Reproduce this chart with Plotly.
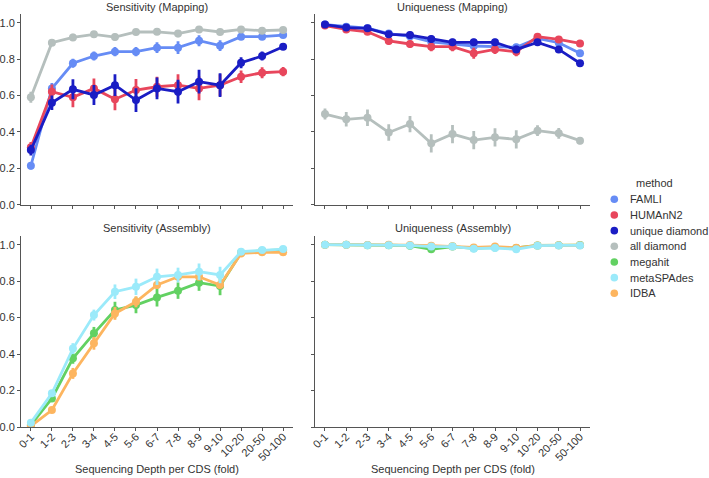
import plotly.graph_objects as go

depth_bins = ["0-1", "1-2", "2-3", "3-4", "4-5", "5-6", "6-7", "7-8", "8-9", "9-10", "10-20", "20-50", "50-100"]

# Sensitivity (Mapping)
famli_sens_map = [0.214, 0.639, 0.777, 0.817, 0.841, 0.841, 0.863, 0.863, 0.901, 0.874, 0.923, 0.923, 0.932]
famli_sens_map_err = [0.02, 0.03, 0.025, 0.025, 0.025, 0.025, 0.03, 0.035, 0.03, 0.03, 0.015, 0.015, 0.01]
humann2_sens_map = [0.315, 0.621, 0.59, 0.639, 0.579, 0.63, 0.648, 0.657, 0.639, 0.657, 0.703, 0.725, 0.731]
humann2_sens_map_err = [0.03, 0.04, 0.055, 0.055, 0.06, 0.06, 0.055, 0.06, 0.065, 0.06, 0.035, 0.03, 0.025]
unique_sens_map = [0.30, 0.56, 0.634, 0.603, 0.657, 0.575, 0.639, 0.621, 0.676, 0.657, 0.78, 0.817, 0.868]
unique_sens_map_err = [0.03, 0.04, 0.055, 0.055, 0.06, 0.065, 0.06, 0.065, 0.065, 0.065, 0.03, 0.025, 0.01]
all_sens_map = [0.59, 0.89, 0.919, 0.936, 0.921, 0.949, 0.95, 0.94, 0.963, 0.949, 0.963, 0.956, 0.96]
all_sens_map_err = [0.03, 0.015, 0.02, 0.015, 0.02, 0.015, 0.015, 0.02, 0.015, 0.015, 0.01, 0.01, 0.01]

# Uniqueness (Mapping)
famli_uniq_map = [0.99, 0.978, 0.97, 0.94, 0.925, 0.895, 0.885, 0.872, 0.868, 0.865, 0.914, 0.89, 0.832]
famli_uniq_map_err = [0.01, 0.01, 0.01, 0.015, 0.02, 0.02, 0.02, 0.02, 0.02, 0.02, 0.015, 0.01, 0.01]
humann2_uniq_map = [0.984, 0.963, 0.95, 0.90, 0.883, 0.868, 0.868, 0.832, 0.853, 0.84, 0.923, 0.908, 0.886]
humann2_uniq_map_err = [0.01, 0.015, 0.015, 0.02, 0.02, 0.025, 0.025, 0.03, 0.025, 0.025, 0.015, 0.015, 0.01]
unique_uniq_map = [0.99, 0.973, 0.969, 0.936, 0.932, 0.91, 0.892, 0.892, 0.892, 0.853, 0.892, 0.853, 0.777]
unique_uniq_map_err = [0.01, 0.01, 0.01, 0.015, 0.02, 0.02, 0.02, 0.02, 0.02, 0.02, 0.015, 0.01, 0.01]
all_uniq_map = [0.498, 0.469, 0.478, 0.397, 0.443, 0.337, 0.388, 0.355, 0.37, 0.359, 0.407, 0.392, 0.352]
all_uniq_map_err = [0.03, 0.04, 0.045, 0.045, 0.045, 0.05, 0.05, 0.05, 0.05, 0.05, 0.03, 0.03, 0.02]

# Sensitivity (Assembly)
megahit_sens_asm = [0.011, 0.157, 0.377, 0.514, 0.642, 0.669, 0.711, 0.748, 0.792, 0.773, 0.956, 0.967, 0.971]
megahit_sens_asm_err = [0.005, 0.015, 0.03, 0.035, 0.045, 0.045, 0.05, 0.045, 0.045, 0.05, 0.01, 0.01, 0.01]
metaspades_sens_asm = [0.024, 0.185, 0.43, 0.614, 0.742, 0.769, 0.824, 0.834, 0.852, 0.834, 0.962, 0.971, 0.976]
metaspades_sens_asm_err = [0.01, 0.015, 0.03, 0.03, 0.04, 0.045, 0.045, 0.04, 0.045, 0.045, 0.01, 0.01, 0.01]
idba_sens_asm = [0.005, 0.093, 0.294, 0.459, 0.623, 0.687, 0.779, 0.824, 0.824, 0.779, 0.952, 0.958, 0.958]
idba_sens_asm_err = [0.005, 0.01, 0.03, 0.035, 0.035, 0.03, 0.02, 0.015, 0.015, 0.015, 0.01, 0.01, 0.01]

# Uniqueness (Assembly)
megahit_uniq_asm = [1.0, 1.0, 0.997, 0.997, 0.995, 0.975, 0.99, 0.98, 0.985, 0.982, 0.996, 0.997, 0.998]
megahit_uniq_asm_err = [0.002, 0.002, 0.003, 0.003, 0.004, 0.01, 0.005, 0.006, 0.006, 0.008, 0.003, 0.002, 0.002]
metaspades_uniq_asm = [1.0, 1.0, 0.997, 0.997, 0.996, 0.99, 0.99, 0.978, 0.982, 0.975, 0.995, 0.996, 0.996]
metaspades_uniq_asm_err = [0.002, 0.002, 0.003, 0.003, 0.004, 0.006, 0.005, 0.006, 0.006, 0.012, 0.003, 0.002, 0.002]
idba_uniq_asm = [1.0, 1.0, 0.998, 1.0, 0.998, 0.995, 0.992, 0.985, 0.99, 0.983, 0.996, 0.997, 0.997]
idba_uniq_asm_err = [0.002, 0.002, 0.002, 0.002, 0.003, 0.004, 0.004, 0.005, 0.005, 0.006, 0.002, 0.002, 0.002]

methods = ["FAMLI", "HUMAnN2", "unique diamond", "all diamond", "megahit", "metaSPAdes", "IDBA"]
colors = {
    "FAMLI": "#668cf5",
    "HUMAnN2": "#e8465c",
    "unique diamond": "#1a1dc4",
    "all diamond": "#b5bfbd",
    "megahit": "#62d162",
    "metaSPAdes": "#9beafa",
    "IDBA": "#fdb55f",
}

panels = [
    ("x", "y", [("FAMLI", famli_sens_map, famli_sens_map_err), ("HUMAnN2", humann2_sens_map, humann2_sens_map_err),
                ("unique diamond", unique_sens_map, unique_sens_map_err), ("all diamond", all_sens_map, all_sens_map_err)]),
    ("x2", "y2", [("FAMLI", famli_uniq_map, famli_uniq_map_err), ("HUMAnN2", humann2_uniq_map, humann2_uniq_map_err),
                  ("unique diamond", unique_uniq_map, unique_uniq_map_err), ("all diamond", all_uniq_map, all_uniq_map_err)]),
    ("x3", "y3", [("megahit", megahit_sens_asm, megahit_sens_asm_err), ("IDBA", idba_sens_asm, idba_sens_asm_err),
                  ("metaSPAdes", metaspades_sens_asm, metaspades_sens_asm_err)]),
    ("x4", "y4", [("megahit", megahit_uniq_asm, megahit_uniq_asm_err), ("IDBA", idba_uniq_asm, idba_uniq_asm_err),
                  ("metaSPAdes", metaspades_uniq_asm, metaspades_uniq_asm_err)]),
]

fig = go.Figure()
idx = list(range(len(depth_bins)))
for xa, ya, series in panels:
    for name, vals, errs in series:
        c = colors[name]
        fig.add_trace(go.Scatter(
            x=idx, y=vals, xaxis=xa, yaxis=ya, mode="lines+markers", name=name,
            line=dict(color=c, width=2.8), marker=dict(color=c, size=8),
            error_y=dict(type="data", array=errs, visible=True, color=c, thickness=2.8, width=0),
            showlegend=False, hoverinfo="x+y"))

W, H = 709, 478

def px(x):
    return x / W

def py(y):
    return 1 - y / H

xl = [px(21), px(293)]
xr = [px(315), px(590)]
yt = [py(204.7), py(13.6)]
yb = [py(427), py(235.6)]

font_family = "Liberation Sans, Arial, sans-serif"
font_col = "#333333"
axis_col = "#555555"
tickfont = dict(family=font_family, size=11, color=font_col)

def xaxis(domain, anchor, labels):
    return dict(domain=domain, anchor=anchor, range=[-0.47, 12.47], tickmode="array", tickvals=idx,
                ticktext=depth_bins, showticklabels=labels, tickangle=-45, ticks="outside", ticklen=3,
                tickcolor=axis_col, showline=True, linecolor=axis_col, linewidth=1, showgrid=False,
                zeroline=False, tickfont=tickfont, automargin=False, ticklabelstandoff=-5)

def yaxis(domain, anchor, labels):
    return dict(domain=domain, anchor=anchor, range=[0, 1.05], tickmode="array",
                tickvals=[0, 0.2, 0.4, 0.6, 0.8, 1.0], ticktext=["0.0", "0.2", "0.4", "0.6", "0.8", "1.0"],
                showticklabels=labels, ticks="outside", ticklen=3, tickcolor=axis_col, showline=True,
                linecolor=axis_col, linewidth=1, showgrid=False, zeroline=False, tickfont=tickfont,
                automargin=False)

titles = [
    ("Sensitivity (Mapping)", (xl[0] + xl[1]) / 2, py(7)),
    ("Uniqueness (Mapping)", (xr[0] + xr[1]) / 2, py(7)),
    ("Sensitivity (Assembly)", (xl[0] + xl[1]) / 2, py(228)),
    ("Uniqueness (Assembly)", (xr[0] + xr[1]) / 2, py(228)),
    ("Sequencing Depth per CDS (fold)", (xl[0] + xl[1]) / 2, py(469)),
    ("Sequencing Depth per CDS (fold)", (xr[0] + xr[1]) / 2, py(469)),
]
annotations = [dict(text=t, x=x, y=y, xref="paper", yref="paper", xanchor="center", yanchor="middle",
                    showarrow=False, font=dict(family=font_family, size=11, color=font_col))
               for t, x, y in titles]

# legend (drawn manually to match the compact spacing)
legend_title_y = 183.3
legend_y0 = 199.3
legend_dy = 15.67
annotations.append(dict(text="method", x=px(654), y=py(legend_title_y), xref="paper", yref="paper",
                        xanchor="center", yanchor="middle", showarrow=False,
                        font=dict(family=font_family, size=11, color=font_col)))
shapes = []
r = 3.8
for i, m in enumerate(methods):
    yy = legend_y0 + i * legend_dy
    shapes.append(dict(type="circle", xref="paper", yref="paper",
                       x0=px(614.3 - r), x1=px(614.3 + r), y0=py(yy + r), y1=py(yy - r),
                       fillcolor=colors[m], line=dict(width=0)))
    annotations.append(dict(text=m, x=px(627.5), y=py(yy), xref="paper", yref="paper",
                            xanchor="left", yanchor="middle", showarrow=False,
                            font=dict(family=font_family, size=11, color=font_col)))

fig.update_layout(
    width=W, height=H, margin=dict(l=0, r=0, t=0, b=0),
    paper_bgcolor="white", plot_bgcolor="white",
    font=dict(family=font_family, size=11, color=font_col),
    xaxis=xaxis(xl, "y", False), yaxis=yaxis(yt, "x", True),
    xaxis2=xaxis(xr, "y2", False), yaxis2=yaxis(yt, "x2", False),
    xaxis3=xaxis(xl, "y3", True), yaxis3=yaxis(yb, "x3", True),
    xaxis4=xaxis(xr, "y4", True), yaxis4=yaxis(yb, "x4", False),
    annotations=annotations, shapes=shapes,
    showlegend=False,
)

# remove the browser's default 8px page margin so the figure sits at the window's top-left corner
fig.write_html("out.html", config={"displayModeBar": False},
               post_script="document.body.style.margin='0';")
